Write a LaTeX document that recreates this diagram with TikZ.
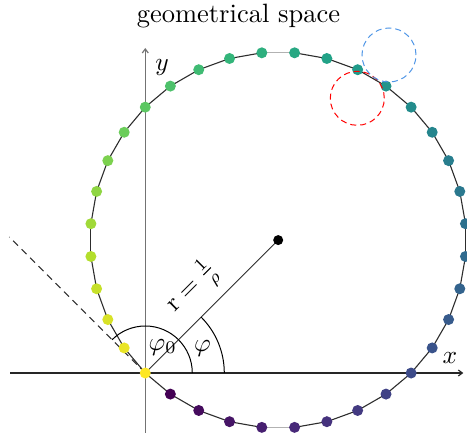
\RequirePackage{fix-cm}
\documentclass[tikz,border=0pt]{standalone}
\usepackage{graphicx}
\usetikzlibrary{calc,arrows.meta}
\definecolor{v0}{RGB}{68,1,84}
\definecolor{v1}{RGB}{72,40,120}
\definecolor{v2}{RGB}{62,73,137}
\definecolor{v3}{RGB}{49,104,142}
\definecolor{v4}{RGB}{38,130,142}
\definecolor{v5}{RGB}{31,158,137}
\definecolor{v6}{RGB}{53,183,121}
\definecolor{v7}{RGB}{110,206,88}
\definecolor{v8}{RGB}{181,222,43}
\definecolor{v9}{RGB}{253,231,37}
\definecolor{v10}{RGB}{253,231,37}
\definecolor{linec}{RGB}{45,45,45}
\definecolor{bluec}{RGB}{80,150,230}
\newcommand{\myscaledlabel}[1]{\scalebox{2.55}{#1}}
\begin{document}
\begin{tikzpicture}[x=1pt,y=1pt,
  axisline/.style={line width=1.2pt,-{Straight Barb[length=4pt,width=6pt]}},
  curveseg/.style={line width=1.1pt,draw=linec},
  dotnode/.style={circle,inner sep=0pt,minimum size=11pt},
  lbl/.style={font=\fontsize{10}{12}\selectfont,inner sep=0pt},
  tang/.style={dashed,dash pattern=on 7pt off 5pt,line width=1pt,draw=linec},
  ring/.style={dashed,dash pattern=on 6pt off 4pt,line width=1pt}]
\useasboundingbox (-145.3,-60) rectangle (321.7,373);
\def\R{188}
\coordinate (O) at (0,0);
\coordinate (C) at (132.9,132.9);
% axes
\coordinate (xs) at (-135,0);
\coordinate (xe) at (318,0);
\coordinate (ys) at (0,-62);
\coordinate (ye) at (0,325);
\draw[axisline,draw=black!85] (xs) -- (xe);
\draw[axisline,draw=black!55] (ys) -- (ye);
\node[lbl] (xl) at (304.7,15) {\myscaledlabel{$x$}};
\node[lbl] (yl) at (16.7,306) {\myscaledlabel{$y$}};
% title
\node[lbl,anchor=base] (title) at (93.2,350) {\scalebox{2.65}{geometrical space}};
% tangent dashed line
\coordinate (T) at (-136,136);
\draw[tang] (O) -- (T);
% curve coordinates
\foreach \k in {0,...,35}{
  \coordinate (q\k) at ($(C)+(5+10*\k:\R)$);
}
\foreach \k in {0,...,35}{
  \pgfmathtruncatemacro\kn{mod(\k+1,36)}
  \ifnum\k=8 \draw[curveseg,draw=black!30] (q\k) -- (q\kn);
  \else\ifnum\k=26 \draw[curveseg,draw=black!30] (q\k) -- (q\kn);
  \else \draw[curveseg] (q\k) -- (q\kn);
  \fi\fi
}
% radius
\draw[line width=1pt,draw=linec] (O) -- (C);
% angle arcs
\draw[line width=1pt] ($(O)+(79,0)$) arc[start angle=0,end angle=45,radius=79];
\draw[line width=1pt] ($(O)+(47,0)$) arc[start angle=0,end angle=135,radius=47];
\node[lbl] (phi0) at (17.4,26) {\myscaledlabel{$\varphi_0$}};
\node[lbl] (phi) at (57.2,25) {\myscaledlabel{$\varphi$}};
\node[lbl,rotate=45] (rlab) at (47.5,85) {\myscaledlabel{$\mathrm{r}=\frac{1}{\rho}$}};
% dots
\foreach \k in {0,...,35}{
  \pgfmathtruncatemacro\i{mod(\k+13,36)}
  \pgfmathsetmacro\u{9*\i/35}
  \pgfmathtruncatemacro\s{floor(\u)}
  \pgfmathtruncatemacro\sn{\s+1}
  \pgfmathtruncatemacro\p{round(100*(1-(\u-\s)))}
  \colorlet{dotc}{v\s!\p!v\sn}
  \node[dotnode,fill=dotc] (p\k) at (q\k) {};
}
\node[circle,fill=black,inner sep=0pt,minimum size=10pt] (cen) at (C) {};
% dashed circles
\node[ring,draw=red,circle,minimum size=54pt,inner sep=0pt] (redc) at (212,274.7) {};
\node[ring,draw=bluec,circle,minimum size=54pt,inner sep=0pt] (bluecirc) at (243.7,318) {};
\end{tikzpicture}
\end{document}
